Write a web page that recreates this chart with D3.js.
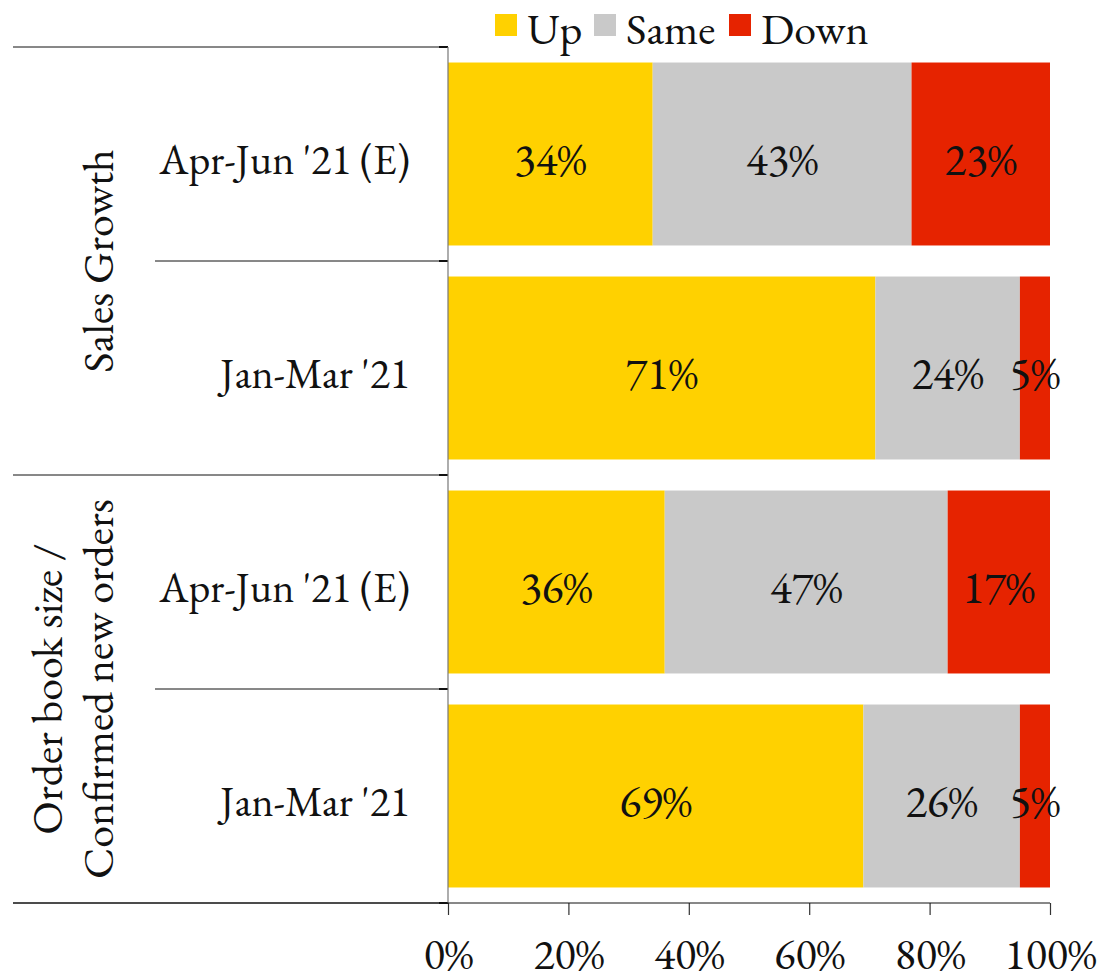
<!DOCTYPE html>
<html>
<head>
<meta charset="utf-8">
<script src="https://cdn.jsdelivr.net/npm/d3@7"></script>
<style>
  html, body { margin: 0; padding: 0; background: #fff; }
  svg text { font-family: "EB Garamond", Garamond, "Liberation Serif", "DejaVu Serif", serif; fill: #111; }
</style>
</head>
<body>
<svg id="chart" width="1102" height="975"></svg>
<script>
// Survey results: share of respondents reporting Up / Same / Down
const groups = ["Sales Growth", "Order book size /\nConfirmed new orders"];
const periods = ["Apr-Jun '21 (E)", "Jan-Mar '21", "Apr-Jun '21 (E)", "Jan-Mar '21"];
const rowGroup = [0, 0, 1, 1];
const seriesNames = ["Up", "Same", "Down"];
const upValues = [34, 71, 36, 69];
const sameValues = [43, 24, 47, 26];
const downValues = [23, 5, 17, 5];
const tickValues = [0, 20, 40, 60, 80, 100];
const colors = ["#FFD100", "#C9C9C9", "#E62300"];

(function draw() {
  const svg = d3.select("#chart");
  const fontSize = 44;
  const periodFont = 42;
  const valueFont = 45;

  const plotLeft = 448, plotRight = 1050, plotTop = 47, plotBottom = 903;
  const rows = d3.range(periods.length);

  const x = d3.scaleLinear().domain([0, 100]).range([plotLeft, plotRight]);
  const y = d3.scaleBand().domain(rows).range([plotTop, plotBottom])
    .paddingInner(0.145).paddingOuter(0.0725);

  // Stack the three series per row
  const table = rows.map(i => ({ row: i, Up: upValues[i], Same: sameValues[i], Down: downValues[i] }));
  const stacked = d3.stack().keys(seriesNames)(table);

  // Bars
  const layers = svg.append("g").selectAll("g").data(stacked).join("g")
    .attr("fill", (d, i) => colors[i]);
  layers.selectAll("rect").data(d => d).join("rect")
    .attr("x", d => x(d[0]))
    .attr("y", d => y(d.data.row))
    .attr("width", d => x(d[1]) - x(d[0]))
    .attr("height", y.bandwidth());

  // Value labels centred in each segment
  layers.selectAll("text").data(d => d).join("text")
    .attr("x", d => (x(d[0]) + x(d[1])) / 2)
    .attr("y", d => y(d.data.row) + y.bandwidth() / 2 + 5)
    .attr("text-anchor", "middle")
    .attr("dominant-baseline", "central")
    .style("font-size", valueFont + "px")
    .style("fill", "#111")
    .text(d => (d[1] - d[0]) + "%");

  // Row boundaries (band edges)
  const step = y.step();
  const edge = i => y(i) - step * y.paddingInner() / 2;
  const boundaries = d3.range(periods.length + 1)
    .map(i => i < periods.length ? edge(i) : edge(i - 1) + step);

  const sep = svg.append("g").attr("stroke", "#111").attr("stroke-width", 1);
  boundaries.forEach((b, i) => {
    const groupEdge = i % 2 === 0;
    sep.append("line")
      .attr("x1", groupEdge ? 13 : 155).attr("x2", plotLeft)
      .attr("y1", b).attr("y2", b);
    // small outward tick on the category axis
    sep.append("line")
      .attr("x1", plotLeft - 9).attr("x2", plotLeft)
      .attr("y1", b).attr("y2", b).attr("stroke-width", 2);
  });

  // Category axis line
  svg.append("line")
    .attr("x1", plotLeft).attr("x2", plotLeft)
    .attr("y1", plotTop).attr("y2", plotBottom)
    .attr("stroke", "#777").attr("stroke-width", 1.2);

  // Period labels
  svg.append("g").selectAll("text").data(rows).join("text")
    .attr("x", 410)
    .attr("y", i => y(i) + y.bandwidth() / 2 + 5)
    .attr("text-anchor", "end")
    .attr("dominant-baseline", "central")
    .style("font-size", periodFont + "px")
    .text(i => periods[i]);

  // Group labels, rotated
  groups.forEach((g, gi) => {
    const members = rows.filter(i => rowGroup[i] === gi);
    const y0 = edge(members[0]);
    const y1 = edge(members[members.length - 1]) + step;
    const cy = (y0 + y1) / 2;
    const lines = g.split("\n");
    lines.forEach((ln, li) => {
      const cx = 97 - (lines.length - 1 - li) * 51;
      svg.append("text")
        .attr("transform", `translate(${cx},${cy}) rotate(-90)`)
        .attr("text-anchor", "middle")
        .attr("dominant-baseline", "central")
        .style("font-size", fontSize + "px")
        .text(ln);
    });
  });

  // Value axis along the bottom
  const xAxis = d3.axisBottom(x).tickValues(tickValues)
    .tickFormat(d => d + "%").tickSize(12).tickPadding(23).tickSizeOuter(0);
  const ax = svg.append("g").attr("transform", `translate(0,${plotBottom})`).call(xAxis);
  ax.select(".domain").remove();
  ax.selectAll(".tick line").attr("stroke", "#333").attr("stroke-width", 1.2);
  ax.selectAll(".tick text")
    .style("font-size", fontSize + "px")
    .style("font-family", "\"EB Garamond\", Garamond, \"Liberation Serif\", serif")
    .attr("fill", "#111");
  svg.append("line")
    .attr("x1", 13).attr("x2", plotRight)
    .attr("y1", plotBottom).attr("y2", plotBottom)
    .attr("stroke", "#111").attr("stroke-width", 1);

  // Legend
  const legendX = [495, 594, 729];
  const legend = svg.append("g").selectAll("g").data(seriesNames).join("g")
    .attr("transform", (d, i) => `translate(${legendX[i]},14)`);
  legend.append("rect").attr("width", 22).attr("height", 22)
    .attr("fill", (d, i) => colors[i]);
  legend.append("text")
    .attr("x", 32).attr("y", 30)
    .style("font-size", fontSize + "px")
    .text(d => d);
})();
</script>
</body>
</html>
